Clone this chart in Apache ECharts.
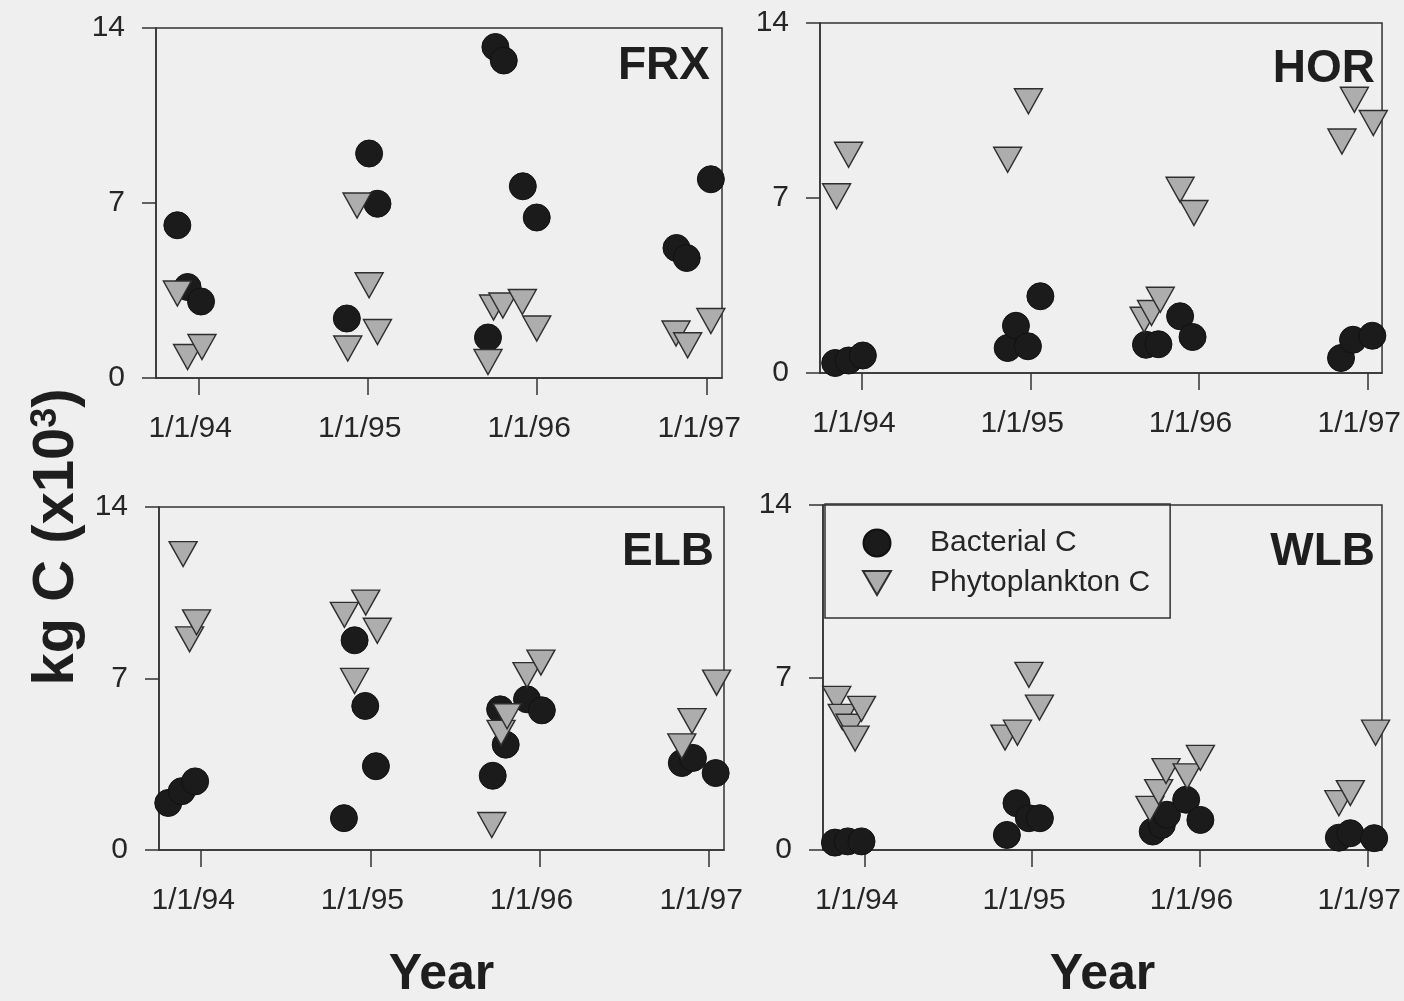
<!DOCTYPE html>
<html><head><meta charset="utf-8">
<script src="https://cdn.jsdelivr.net/npm/echarts@6/dist/echarts.min.js"></script>
<style>html,body{margin:0;padding:0;background:#efefef}#c{width:1404px;height:1001px}</style>
</head><body><div id="c"></div>
<script>
// ---------- data ----------
const panelNames = ['FRX', 'HOR', 'ELB', 'WLB'];
const seriesNames = ['Bacterial C', 'Phytoplankton C'];
const tickDates = ['1994-01-01', '1995-01-01', '1996-01-01', '1997-01-01'];
const tickLabels = ['1/1/94', '1/1/95', '1/1/96', '1/1/97'];
const xRange = ['1993-10-02', '1997-02-02'];
const yTicks = [0, 7, 14];
const yTitle = 'kg C (x10';
const yTitleSup = '3';
const xTitle = 'Year';

const frxBacterial = [['1993-11-17',6.11],['1993-12-09',3.64],['1994-01-07',3.06],['1994-11-17',2.38],['1995-01-04',8.98],['1995-01-22',6.97],['1995-09-17',1.62],['1995-10-03',13.24],['1995-10-21',12.7],['1995-12-01',7.67],['1995-12-31',6.42],['1996-10-27',5.2],['1996-11-18',4.8],['1997-01-09',7.95]];
const frxPhyto = [['1993-11-17',3.38],['1993-12-09',0.84],['1994-01-09',1.24],['1994-11-19',1.18],['1994-12-09',6.9],['1995-01-04',3.71],['1995-01-22',1.84],['1995-09-17',0.64],['1995-09-29',2.82],['1995-10-19',2.9],['1995-11-30',3.04],['1995-12-31',1.98],['1996-10-26',1.78],['1996-11-20',1.31],['1997-01-09',2.28]];

const horBacterial = [['1993-11-04',0.4],['1993-12-03',0.5],['1994-01-03',0.7],['1994-11-13',1.0],['1994-12-01',1.89],['1994-12-27',1.07],['1995-01-23',3.07],['1995-09-09',1.13],['1995-10-06',1.15],['1995-11-22',2.27],['1995-12-19',1.44],['1996-11-05',0.6],['1996-12-01',1.33],['1997-01-12',1.49]];
const horPhyto = [['1993-11-07',7.07],['1993-12-03',8.73],['1994-11-13',8.53],['1994-12-28',10.87],['1995-09-05',2.13],['1995-09-21',2.4],['1995-10-10',2.93],['1995-11-22',7.33],['1995-12-22',6.4],['1996-11-07',9.26],['1996-12-04',10.93],['1997-01-14',10.0]];

const elbBacterial = [['1993-10-22',1.92],['1993-11-20',2.4],['1993-12-19',2.8],['1994-11-05',1.3],['1994-11-28',8.56],['1994-12-21',5.88],['1995-01-13',3.42],['1995-09-22',3.03],['1995-10-08',5.74],['1995-10-20',4.3],['1995-12-05',6.15],['1996-01-06',5.7],['1996-11-03',3.55],['1996-11-27',3.76],['1997-01-15',3.14]];
const elbPhyto = [['1993-11-23',12.08],['1993-12-07',8.6],['1993-12-22',9.29],['1994-11-06',9.6],['1994-11-28',6.9],['1994-12-22',10.1],['1995-01-16',8.95],['1995-09-20',1.02],['1995-10-10',4.78],['1995-10-23',5.46],['1995-12-05',7.14],['1996-01-04',7.65],['1996-11-03',4.23],['1996-11-25',5.26],['1997-01-17',6.83]];

const wlbBacterial = [['1993-10-28',0.3],['1993-11-25',0.35],['1993-12-25',0.35],['1994-11-07',0.61],['1994-11-28',1.9],['1994-12-25',1.29],['1995-01-18',1.29],['1995-09-21',0.75],['1995-10-11',1.02],['1995-10-22',1.43],['1995-12-03',2.04],['1996-01-03',1.22],['1996-10-31',0.5],['1996-11-25',0.68],['1997-01-16',0.48]];
const wlbPhyto = [['1993-11-01',6.13],['1993-11-13',5.4],['1993-11-30',5.0],['1993-12-11',4.52],['1993-12-25',5.73],['1994-11-03',4.56],['1994-11-30',4.76],['1994-12-25',7.11],['1995-01-17',5.78],['1995-09-15',1.67],['1995-10-04',2.35],['1995-10-20',3.2],['1995-12-05',2.99],['1996-01-03',3.74],['1996-10-31',1.9],['1996-11-25',2.31],['1997-01-19',4.76]];

const panelData = [[frxBacterial, frxPhyto], [horBacterial, horPhyto], [elbBacterial, elbPhyto], [wlbBacterial, wlbPhyto]];

// ---------- layout / style ----------
const gridBoxes = [
  {left:156, top:28, width:566, height:350},
  {left:820, top:23, width:564, height:350},
  {left:159, top:507, width:565, height:347},
  {left:823, top:505, width:563, height:349}
];
const titlePos = [{right:694, top:43}, {right:29, top:46}, {right:690, top:529}, {right:29, top:529}];
const FONT = "'Liberation Sans', Arial, sans-serif";
const LINE = '#333333';
const TEXT = '#262626';

const DAY = 86400000;
function toDay(s) { const p = s.split('-').map(Number); return Math.round(Date.UTC(p[0], p[1]-1, p[2]) / DAY); }
const tickDays = tickDates.map(toDay);

const grids = [], xAxes = [], yAxes = [], series = [], titles = [];
panelNames.forEach((name, i) => {
  grids.push(Object.assign({show:true, borderColor:LINE, borderWidth:1.5, backgroundColor:'transparent', containLabel:false}, gridBoxes[i]));
  xAxes.push({
    type:'value', gridIndex:i, min:toDay(xRange[0]), max:toDay(xRange[1]),
    axisLine:{show:true, onZero:false, lineStyle:{color:LINE, width:1.5}},
    axisTick:{show:true, length:17, customValues:tickDays, lineStyle:{color:LINE, width:1.5}},
    axisLabel:{show:true, customValues:tickDays, hideOverlap:false, margin:36, padding:[0,16,0,0],
      fontFamily:FONT, fontSize:30, color:TEXT,
      formatter:(v) => { const k = tickDays.indexOf(Math.round(v)); return k >= 0 ? tickLabels[k] : ''; }},
    splitLine:{show:false},
    name: i >= 2 ? xTitle : '', nameLocation:'middle', nameGap:100,
    nameTextStyle:{fontSize:50, fontWeight:'bold', fontFamily:FONT, color:'#1e1e1e', verticalAlign:'top'}
  });
  yAxes.push({
    type:'value', gridIndex:i, min:yTicks[0], max:yTicks[yTicks.length-1], interval:yTicks[1]-yTicks[0],
    axisLine:{show:true, onZero:false, lineStyle:{color:LINE, width:1.5}},
    axisTick:{show:true, length:14, lineStyle:{color:LINE, width:1.5}},
    axisLabel:{margin:31, fontFamily:FONT, fontSize:30, color:TEXT},
    splitLine:{show:false}
  });
  series.push({
    type:'scatter', name:seriesNames[0], xAxisIndex:i, yAxisIndex:i,
    data: panelData[i][0].map(d => [toDay(d[0]), d[1]]),
    symbol:'circle', symbolSize:27,
    itemStyle:{color:'#1b1b1b', borderColor:'#111', borderWidth:1, opacity:1}
  });
  series.push({
    type:'scatter', name:seriesNames[1], xAxisIndex:i, yAxisIndex:i,
    data: panelData[i][1].map(d => [toDay(d[0]), d[1]]),
    symbol:'path://M0,0L20,0L10,17.32Z', symbolSize:[28,25],
    itemStyle:{color:'#adadad', borderColor:'#2e2e2e', borderWidth:1.4, opacity:1}
  });
  titles.push(Object.assign({text:name, padding:0,
    textStyle:{fontSize:46, fontWeight:'bold', fontFamily:FONT, color:'#1e1e1e'}}, titlePos[i]));
});

const option = {
  animation:false,
  backgroundColor:'#efefef',
  title: titles,
  grid: grids, xAxis: xAxes, yAxis: yAxes, series: series,
  legend: {
    data: seriesNames, orient:'vertical', left:825, top:504,
    padding:[21, 20, 17, 37], itemGap:4, itemWidth:28, itemHeight:27,
    borderColor:LINE, borderWidth:1.5, backgroundColor:'transparent', selectedMode:false,
    textStyle:{fontSize:30, fontFamily:FONT, color:TEXT, padding:[0,0,0,34], lineHeight:36}
  },
  graphic: [{
    type:'text', x:57, y:537, rotation:Math.PI/2,
    style:{
      text:'{b|' + yTitle + '}{s|' + yTitleSup + '}{b|)}',
      align:'center', verticalAlign:'middle',
      rich:{
        b:{fontSize:58, fontWeight:'bold', fontFamily:FONT, fill:'#1e1e1e', lineHeight:58},
        s:{fontSize:36, fontWeight:'bold', fontFamily:FONT, fill:'#1e1e1e', lineHeight:36, verticalAlign:'top'}
      }
    }
  }]
};
const chart = echarts.init(document.getElementById('c'), null, {renderer:'canvas'});
chart.setOption(option);
</script></body></html>
